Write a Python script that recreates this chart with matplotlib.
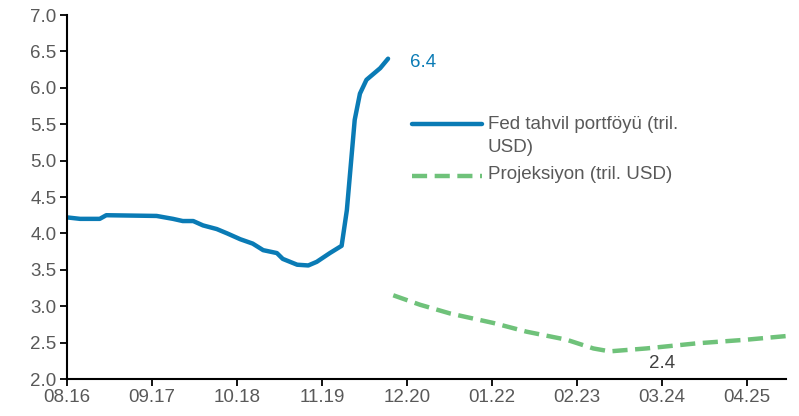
import matplotlib
matplotlib.use("Agg")
import matplotlib.pyplot as plt

plt.rcParams['font.family'] = ['Liberation Sans', 'DejaVu Sans']

# months elapsed since August 2016
fed_months = [0, 2, 5, 6, 13.7, 16.2, 17.7, 19.3, 20.8, 22.9, 24.5, 26.5, 28.4, 30.0,
              32.1, 33.0, 35.2, 36.9, 38.2, 40.2, 42.0, 42.8, 44.0, 44.8, 45.8, 47.9, 49.1]
fed_values = [4.22, 4.20, 4.20, 4.25, 4.24, 4.20, 4.17, 4.17, 4.11, 4.06, 4.00, 3.92, 3.86, 3.77,
              3.73, 3.65, 3.57, 3.56, 3.61, 3.73, 3.83, 4.32, 5.56, 5.92, 6.11, 6.27, 6.40]

proj_months = [49.9, 54.0, 58.6, 65.2, 70.3, 76.4, 80.5, 83.0, 88.6, 96.3, 103.9, 110.0]
proj_values = [3.15, 3.02, 2.90, 2.77, 2.65, 2.54, 2.42, 2.38, 2.42, 2.49, 2.54, 2.59]

tick_months = [0, 13, 26, 39, 52, 65, 78, 91, 104]
tick_labels = ['08.16', '09.17', '10.18', '11.19', '12.20', '01.22', '02.23', '03.24', '04.25']
y_ticks = [2.0, 2.5, 3.0, 3.5, 4.0, 4.5, 5.0, 5.5, 6.0, 6.5, 7.0]

blue = '#0a7bb5'
green = '#6fc27a'
grey = '#595959'
fs = 13.5

fig = plt.figure(figsize=(7.99, 4.16), dpi=100)
ax = fig.add_axes([0.0839, 0.0889, 0.9001, 0.875])

ax.plot(fed_months, fed_values, color=blue, lw=3.2, solid_capstyle='round',
        solid_joinstyle='round')
ax.plot(proj_months, proj_values, color=green, lw=3.2, dashes=(3.4, 1.7))

ax.set_xlim(0, 110)
ax.set_ylim(2.0, 7.0)
ax.set_xticks(tick_months)
ax.set_xticklabels(tick_labels)
ax.set_yticks(y_ticks)
ax.set_yticklabels([f'{v:.1f}' for v in y_ticks])

for s in ['top', 'right']:
    ax.spines[s].set_visible(False)
for s in ['left', 'bottom']:
    ax.spines[s].set_linewidth(1.5)
ax.tick_params(axis='both', direction='out', length=5, width=1.3,
               labelsize=fs, labelcolor=grey, pad=2.5)

# value labels
ax.text(fed_months[-1] + 3.3, fed_values[-1] - 0.05, f'{fed_values[-1]:.1f}',
        color=blue, fontsize=fs, va='center', ha='left')
ax.text(91, 2.22, f'{min(proj_values):.1f}', color='#404040', fontsize=fs,
        va='center', ha='center')

# legend
tr = ax.transAxes
ax.plot([0.48, 0.577], [0.70, 0.70], transform=tr, color=blue, lw=3.2,
        solid_capstyle='round')
ax.text(0.585, 0.70, 'Fed tahvil portföyü (tril.', transform=tr, color=grey,
        fontsize=fs, va='center', ha='left')
ax.text(0.585, 0.637, 'USD)', transform=tr, color=grey,
        fontsize=fs, va='center', ha='left')
ax.plot([0.48, 0.577], [0.558, 0.558], transform=tr, color=green, lw=3.2,
        dashes=(3.4, 1.7))
ax.text(0.585, 0.563, 'Projeksiyon (tril. USD)', transform=tr, color=grey,
        fontsize=fs, va='center', ha='left')

fig.savefig('out.png', dpi=100)
